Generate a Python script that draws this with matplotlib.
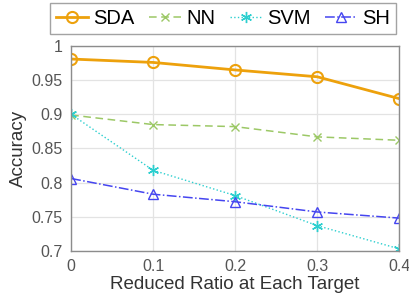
import matplotlib
matplotlib.use("Agg")
import matplotlib.pyplot as plt

# ---------------------------------------------------------------------------
# Data
# ---------------------------------------------------------------------------
ratios = [0.0, 0.1, 0.2, 0.3, 0.4]
sda = [0.981, 0.976, 0.965, 0.955, 0.923]
nn = [0.899, 0.885, 0.882, 0.867, 0.862]
svm = [0.900, 0.818, 0.781, 0.737, 0.703]
sh = [0.806, 0.783, 0.772, 0.757, 0.748]

yticks = [0.7, 0.75, 0.8, 0.85, 0.9, 0.95, 1.0]
yticklabels = ["0.7", "0.75", "0.8", "0.85", "0.9", "0.95", "1"]
xticklabels = ["0", "0.1", "0.2", "0.3", "0.4"]

# ---------------------------------------------------------------------------
# Plot
# ---------------------------------------------------------------------------
plt.rcParams["font.family"] = ["Liberation Sans", "DejaVu Sans"]

fig = plt.figure(figsize=(4.09, 3.03), dpi=100)
ax = fig.add_axes([0.174, 0.172, 0.802, 0.676])

ax.plot(ratios, sda, color="#EDA10C", lw=2.0, marker="o", ms=8,
        mfc="none", mew=1.5, label="SDA")
ax.plot(ratios, nn, color="#9CC866", lw=1.1, ls=(0, (5, 3)), marker="x", ms=6,
        mew=1.0, label="NN")
ax.plot(ratios, svm, color="#2CCFCF", lw=1.0, ls=":", marker=(6, 2, 0), ms=8,
        mew=1.0, label="SVM")
ax.plot(ratios, sh, color="#4545F0", lw=1.1, ls="-.", marker="^", ms=7,
        mfc="none", mew=1.0, label="SH")

ax.set_xlim(0, 0.4)
ax.set_ylim(0.7, 1.0)
ax.set_xticks(ratios)
ax.set_xticklabels(xticklabels)
ax.set_yticks(yticks)
ax.set_yticklabels(yticklabels)
ax.tick_params(labelsize=11.5, colors="#555555", direction="in", length=0, pad=6)
ax.grid(True, color="#E3E3E3", lw=0.9)
ax.set_axisbelow(True)
for s in ax.spines.values():
    s.set_color("#8C8C8C")
    s.set_linewidth(1.0)

ax.set_xlabel("Reduced Ratio at Each Target", fontsize=13.5, color="#333333", labelpad=1)
ax.set_ylabel("Accuracy", fontsize=13.5, color="#333333", labelpad=3)

leg = fig.legend(loc="upper left", bbox_to_anchor=(0.122, 0.89, 0.846, 0.1),
                 mode="expand", ncol=4, fontsize=14.5, frameon=True, fancybox=False,
                 handlelength=1.6, handletextpad=0.25, columnspacing=0.6,
                 borderpad=0.3, borderaxespad=0)
leg.get_frame().set_edgecolor("#8C8C8C")
leg.get_frame().set_linewidth(1.0)

fig.savefig("out.png", dpi=100)
